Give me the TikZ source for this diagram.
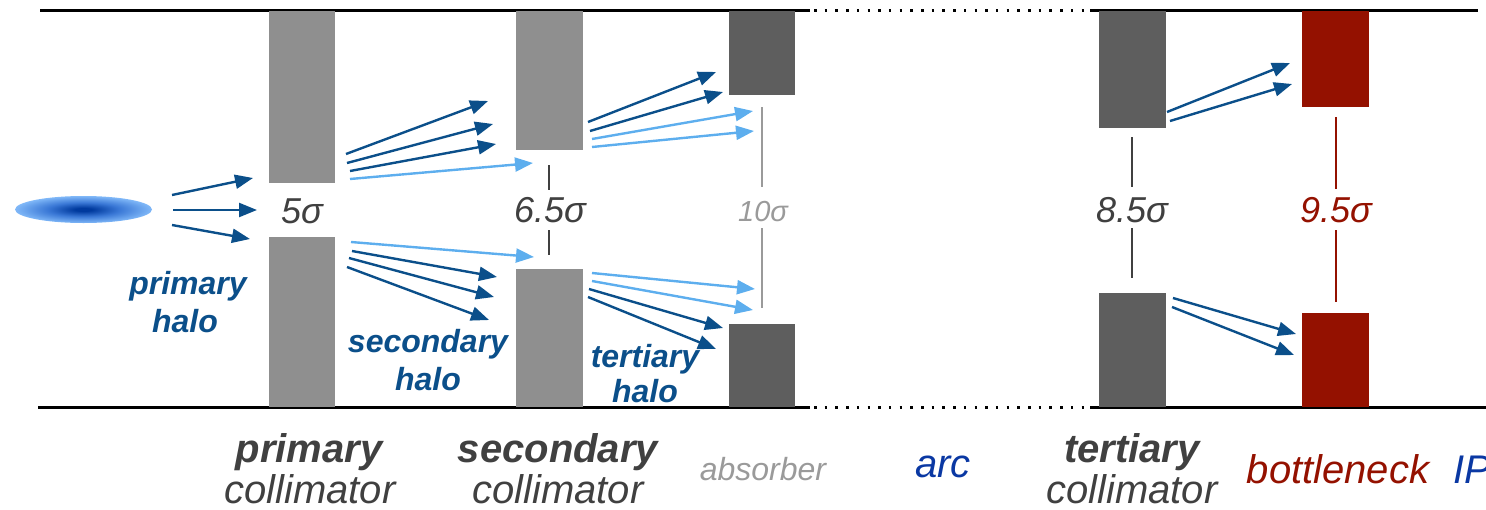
\documentclass[tikz,border=0pt]{standalone}
\usepackage{fontspec}
\setmainfont{Liberation Sans}
\usetikzlibrary{arrows.meta}
\definecolor{jawgray}{HTML}{8F8F8F}
\definecolor{jawdark}{HTML}{5E5E5E}
\definecolor{neckred}{HTML}{941100}
\definecolor{halodark}{HTML}{0B4F8A}
\definecolor{halolight}{HTML}{5DAEEE}
\definecolor{txtgray}{HTML}{404040}
\definecolor{txtlight}{HTML}{9A9A9A}
\definecolor{arcblue}{HTML}{0A38A3}
\definecolor{beamcore}{HTML}{003A9E}
\definecolor{beammid}{HTML}{3A78D6}
\definecolor{beamedge}{HTML}{80B8F8}
% glowing beam core: dark centre fading to light blue at the tips
\pgfdeclareradialshading{beamglow}{\pgfpoint{0bp}{0bp}}{%
  color(0bp)=(beamcore); color(3bp)=(beamcore); color(13bp)=(beammid);
  color(25bp)=(beamedge); color(50bp)=(beamedge)}
\begin{document}
\begin{tikzpicture}[x=1pt,y=-1pt,
  jaw/.style={rectangle, inner sep=0pt, outer sep=0pt, anchor=north west, minimum width=66pt},
  trackdark/.style={line width=2.4pt, halodark, -{Triangle[length=18pt,width=14pt]}},
  tracklight/.style={line width=2.4pt, halolight, -{Triangle[length=18pt,width=14pt]}},
  gapmark/.style={line width=2pt},
  halotext/.style={font=\fontsize{32}{36}\selectfont\bfseries\itshape, text=halodark, inner sep=0pt, anchor=base},
  sigmatext/.style={font=\fontsize{36}{40}\selectfont\itshape, inner sep=0pt, anchor=base},
  namebold/.style={font=\fontsize{40}{43}\selectfont\bfseries\itshape, text=txtgray, inner sep=0pt, anchor=base},
  namereg/.style={font=\fontsize{40}{43}\selectfont\itshape, inner sep=0pt, anchor=base}]
\clip (0,0) rectangle (1486,509);

% beam pipe walls
\draw[line width=2.5pt] (40,10.5) -- (810,10.5);
\draw[line width=2.5pt, dash pattern=on 2.5pt off 8.2pt] (814,10.5) -- (1090,10.5);
\draw[line width=2.5pt] (1090,10.5) -- (1478,10.5);
\draw[line width=2.8pt] (38,407.5) -- (810,407.5);
\draw[line width=2.8pt, dash pattern=on 2.5pt off 8.2pt] (814,407.5) -- (1090,407.5);
\draw[line width=2.8pt] (1090,407.5) -- (1486,407.5);

% collimator jaws
\node[jaw, fill=jawgray, minimum height=172pt] (prim-up) at (269,11) {};
\node[jaw, fill=jawgray, minimum height=170pt] (prim-low) at (269,237) {};
\node[jaw, fill=jawgray, minimum width=67pt, minimum height=139pt] (sec-up) at (516,11) {};
\node[jaw, fill=jawgray, minimum width=67pt, minimum height=138pt] (sec-low) at (516,269) {};
\node[jaw, fill=jawdark, minimum height=84pt] (abs-up) at (729,11) {};
\node[jaw, fill=jawdark, minimum height=83pt] (abs-low) at (729,324) {};
\node[jaw, fill=jawdark, minimum width=67pt, minimum height=117pt] (ter-up) at (1099,11) {};
\node[jaw, fill=jawdark, minimum width=67pt, minimum height=114pt] (ter-low) at (1099,293) {};
\node[jaw, fill=neckred, minimum width=67pt, minimum height=96pt] (neck-up) at (1302,11) {};
\node[jaw, fill=neckred, minimum width=67pt, minimum height=94pt] (neck-low) at (1302,313) {};

% beam core
\shade[shading=beamglow] (83.5,209.5) ellipse [x radius=68.5pt, y radius=13.5pt];

% aperture markers
\draw[gapmark, txtgray] (549,165) -- (549,190) (549,230) -- (549,255);
\draw[gapmark, txtlight] (762,107) -- (762,187) (762,228) -- (762,308);
\draw[gapmark, txtgray] (1132,137) -- (1132,187) (1132,228) -- (1132,278);
\draw[gapmark, neckred] (1336,117) -- (1336,189) (1336,230) -- (1336,302);

% aperture values
\node[sigmatext, text=txtgray] (s-prim) at (302,223) {5σ};
\node[sigmatext, text=txtgray] (s-sec) at (550,222) {6.5σ};
\node[sigmatext, text=txtlight, font=\fontsize{29}{32}\selectfont\itshape] (s-abs) at (763,221) {10σ};
\node[sigmatext, text=txtgray] (s-ter) at (1132,222) {8.5σ};
\node[sigmatext, text=neckred] (s-neck) at (1336,222) {9.5σ};

% primary halo
\draw[trackdark] (172,195) -- (253,178);
\draw[trackdark] (173,210) -- (257,210);
\draw[trackdark] (172,225) -- (250,239);

% secondary halo
\draw[trackdark] (346,154) -- (488,101);
\draw[trackdark] (347,163) -- (493,124);
\draw[trackdark] (350,171) -- (496,144);
\draw[tracklight] (350,179) -- (533,163);
\draw[tracklight] (351,242) -- (534,257);
\draw[trackdark] (352,251) -- (497,277);
\draw[trackdark] (349,258) -- (494,297);
\draw[trackdark] (347,267) -- (489,320);

% tertiary halo
\draw[trackdark] (588,122) -- (716,72);
\draw[trackdark] (590,131) -- (723,92);
\draw[tracklight] (592,139) -- (753,111);
\draw[tracklight] (592,147) -- (754,131);
\draw[tracklight] (592,273) -- (755,289);
\draw[tracklight] (592,281) -- (753,310);
\draw[trackdark] (589,289) -- (723,328);
\draw[trackdark] (588,297) -- (716,349);

% leakage towards the bottleneck
\draw[trackdark] (1167,112) -- (1290,63);
\draw[trackdark] (1170,121) -- (1292,84);
\draw[trackdark] (1173,298) -- (1296,334);
\draw[trackdark] (1172,307) -- (1294,355);

% halo labels
\node[halotext] (h1a) at (188,294) {primary};
\node[halotext] (h1b) at (185,332) {halo};
\node[halotext] (h2a) at (428,352) {secondary};
\node[halotext] (h2b) at (428,390) {halo};
\node[halotext] (h3a) at (645,367) {tertiary};
\node[halotext] (h3b) at (645,402) {halo};

% element names
\node[namebold] (n1a) at (309,462) {primary};
\node[namereg, text=txtgray] (n1b) at (310,503) {collimator};
\node[namebold] (n2a) at (558,462) {secondary};
\node[namereg, text=txtgray] (n2b) at (558,503) {collimator};
\node[namereg, text=txtlight, font=\fontsize{32}{35}\selectfont\itshape] (n3) at (763,480) {absorber};
\node[namereg, text=arcblue] (n4) at (943,477) {arc};
\node[namebold] (n5a) at (1132,462) {tertiary};
\node[namereg, text=txtgray] (n5b) at (1132,503) {collimator};
\node[namereg, text=neckred] (n6) at (1338,483) {bottleneck};
\node[namereg, text=arcblue, anchor=base west] (n7) at (1453,483) {IP};
\end{tikzpicture}
\end{document}
